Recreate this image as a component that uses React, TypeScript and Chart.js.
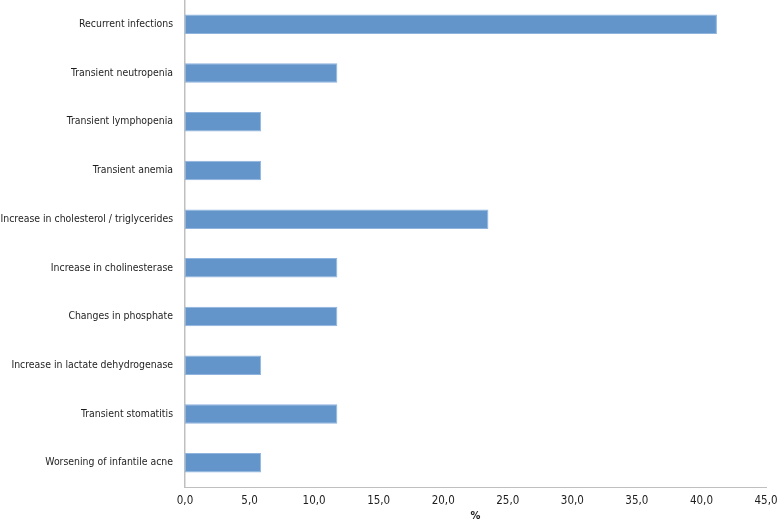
import React, { useEffect, useRef } from "react";
import { Chart, registerables } from "chart.js";

Chart.register(...registerables);

const categories = [
  "Recurrent infections",
  "Transient neutropenia",
  "Transient lymphopenia",
  "Transient anemia",
  "Increase in cholesterol / triglycerides",
  "Increase in cholinesterase",
  "Changes in phosphate",
  "Increase in lactate dehydrogenase",
  "Transient stomatitis",
  "Worsening of infantile acne",
];

const percentValues = [41.2, 11.8, 5.9, 5.9, 23.5, 11.8, 11.8, 5.9, 11.8, 5.9];

const xTickMin = 0;
const xTickMax = 45;
const xTickStep = 5;
const xAxisTitle = "%";

export default function App() {
  const canvasRef = useRef<HTMLCanvasElement | null>(null);

  useEffect(() => {
    if (!canvasRef.current) return;
    const font = "'Liberation Sans Narrow', 'DejaVu Sans Condensed', Lato, sans-serif";
    const chart = new Chart(canvasRef.current, {
      type: "bar",
      data: {
        labels: categories,
        datasets: [
          {
            data: percentValues,
            backgroundColor: "#6395CB",
            borderColor: "#8FB4DE",
            borderWidth: 1,
            borderSkipped: false,
            barPercentage: 0.4,
            categoryPercentage: 1,
          },
        ],
      },
      options: {
        indexAxis: "y",
        animation: false,
        responsive: true,
        maintainAspectRatio: false,
        layout: { padding: { left: 0, right: 12, top: 0, bottom: 0 } },
        plugins: {
          legend: { display: false },
          tooltip: { enabled: false },
        },
        scales: {
          x: {
            min: xTickMin,
            max: xTickMax,
            grid: { display: false, drawTicks: false },
            border: { display: true, color: "#BFBFBF", width: 1 },
            ticks: {
              stepSize: xTickStep,
              padding: 7,
              color: "#1e1e1e",
              font: { family: font, size: 11.5 },
              maxRotation: 0,
              callback: (v: any) => Number(v).toFixed(1).replace(".", ","),
            },
            title: {
              display: true,
              text: xAxisTitle,
              color: "#1e1e1e",
              font: { family: font, size: 11, weight: "bold" },
              padding: { top: 2, bottom: 0 },
            },
            afterFit: (scale: any) => {
              scale.height = 36;
              scale.paddingLeft = 0;
              scale.paddingRight = 0;
            },
          },
          y: {
            grid: { display: false, drawTicks: false },
            border: { display: true, color: "#BFBFBF", width: 1.5 },
            ticks: {
              padding: 12,
              color: "#1e1e1e",
              font: { family: font, size: 10.4 },
            },
            afterFit: (scale: any) => {
              scale.width = 185;
              scale.paddingTop = 0;
              scale.paddingBottom = 0;
            },
          },
        },
      },
    });
    return () => chart.destroy();
  }, []);

  return (
    <div style={{ position: "absolute", left: 0, top: 0, width: 778, height: 523, background: "#fff" }}>
      <canvas ref={canvasRef} />
    </div>
  );
}
